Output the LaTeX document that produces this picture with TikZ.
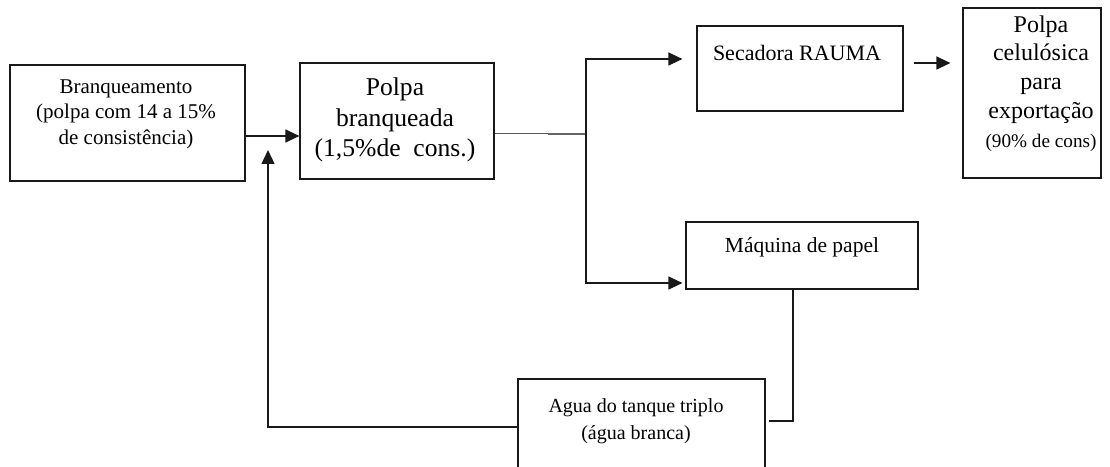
\documentclass[tikz,border=0pt]{standalone}
\usepackage{fontspec}
\setmainfont{Liberation Serif}
\usetikzlibrary{arrows.meta,calc}
\begin{document}
\begin{tikzpicture}[x=1pt,y=1pt,
  box/.style={draw=black!90, line width=1.2pt, rectangle, inner sep=0pt},
  txt/.style={align=center, inner sep=0pt, text=black},
  conn/.style={draw=black!90, line width=1.2pt},
  arr/.style={conn, -{Triangle[length=14pt,width=13pt]}}]
\useasboundingbox (0,0) rectangle (1110,466);
\fill[white] (0,0) rectangle (1110,466);

% boxes
\node[box, minimum width=235pt, minimum height=116pt] (b1) at (127.5,343) {};
\node[box, minimum width=194pt, minimum height=116pt] (p) at (397,345) {};
\node[box, minimum width=206pt, minimum height=85pt] (sec) at (800,397.5) {};
\node[box, minimum width=138pt, minimum height=170pt] (exp) at (1032,373) {};
\node[box, minimum width=232pt, minimum height=67pt] (maq) at (802,210.5) {};
\node[box, minimum width=247pt, minimum height=101pt] (agua) at (641.5,36.5) {};

% texts
\node[txt, font=\fontsize{21}{25.5}\selectfont] (b1t) at (126,352)
  {Branqueamento\\(polpa com 14 a 15\%\\de consistência)};
\node[txt, font=\fontsize{20}{23.5}\selectfont] (pt) at (395,346)
  {\scalebox{1.28}{\begin{tabular}{@{}c@{}}Polpa\\branqueada\\(1,5\%de~ cons.)\end{tabular}}};
\node[txt, font=\fontsize{22}{26}\selectfont] (sect) at (797,413) {Secadora RAUMA};
\node[txt, font=\fontsize{20}{24}\selectfont] (expt) at (1041,382)
  {\scalebox{1.2}{\begin{tabular}{@{}c@{}}Polpa\\celulósica\\para\\exportação\\{\fontsize{16}{24}\selectfont (90\% de cons)}\end{tabular}}};
\node[txt, font=\fontsize{21.5}{26}\selectfont] (maqt) at (802,219) {Máquina de papel};
\node[txt, font=\fontsize{20}{27}\selectfont] (aguat) at (636,44.5)
  {Agua do tanque triplo\\(água branca)};

% connectors
\coordinate (J) at (586,332);
\coordinate (M) at (548,332);
\coordinate (ret) at (268,316);
\draw[arr] ([yshift=-13pt]b1.east) -- ([yshift=-15pt]p.west);
\draw[draw=black!65, line width=1pt] ([yshift=-13pt]p.east) -- (M);
\draw[draw=black!60, line width=2pt] (M) -- (J);
\draw[arr] (J) |- ([xshift=-14pt,yshift=9.5pt]sec.west);
\draw[arr] (J) |- ([xshift=-3pt,yshift=-27.5pt]maq.west);
\draw[arr] ([xshift=10pt,yshift=5.5pt]sec.east) -- ([xshift=-12pt,yshift=30pt]exp.west);
\draw[conn] ([xshift=-9pt]maq.south) |- ([xshift=3pt,yshift=8.5pt]agua.east);
\draw[arr] ([yshift=2.5pt]agua.west) -| (ret);
\end{tikzpicture}
\end{document}
